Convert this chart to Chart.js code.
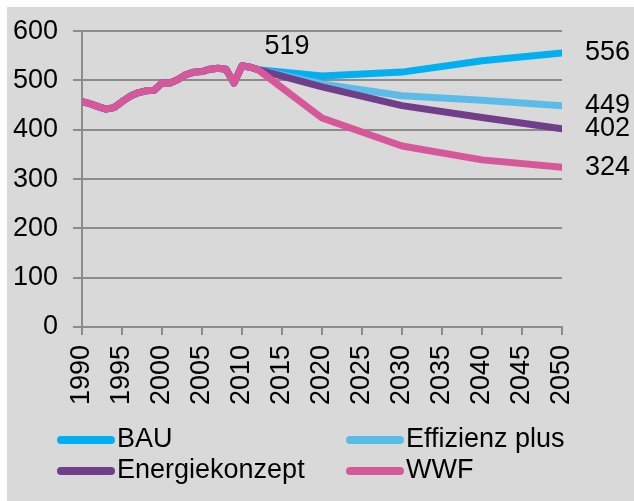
<!DOCTYPE html>
<html>
<head>
<meta charset="utf-8">
<script src="https://cdn.jsdelivr.net/npm/chart.js@4"></script>
<style>
  html, body { margin: 0; padding: 0; background: #fff; }
  #wrap { width: 634px; height: 501px; }
</style>
</head>
<body>
<div id="wrap"><canvas id="grafico" width="634" height="501"></canvas></div>
<script>
// historische Werte (alle Szenarien gleich)
const jahreHist = [1990, 1991, 1992, 1993, 1994, 1995, 1996, 1997, 1998, 1999, 2000, 2001,
  2002, 2003, 2004, 2005, 2006, 2007, 2008, 2009, 2010, 2011, 2012];
const werteHist = [457, 453, 447, 442, 445, 457, 468, 475, 479, 480, 495, 495,
  502, 512, 517, 518, 523, 525, 523, 495, 530, 527, 522];

// Szenarien
const jahreProg = [2020, 2030, 2040, 2050];
const bau = [509, 517, 540, 556];
const effizienzPlus = [493, 469, 460, 449];
const energiekonzept = [487, 449, 425, 402];
const wwf = [424, 367, 339, 324];

const namen = ['BAU', 'Effizienz plus', 'Energiekonzept', 'WWF'];
const farben = ['#00b0f0', '#5bbcea', '#713e8a', '#d6579a'];
const ebenen = [3, 2, 1, 0]; // WWF liegt oben

const xTicks = [1990, 1995, 2000, 2005, 2010, 2015, 2020, 2025, 2030, 2035, 2040, 2045, 2050];
const yTicks = [0, 100, 200, 300, 400, 500, 600];

const hinweisJahr = 2012;
const hinweisText = '519';

const schrift = "'Liberation Sans', Arial, sans-serif";

function reihe(prog) {
  const punkte = jahreHist.map((j, i) => ({ x: j, y: werteHist[i] }));
  jahreProg.forEach((j, i) => punkte.push({ x: j, y: prog[i] }));
  return punkte;
}

const reihen = [bau, effizienzPlus, energiekonzept, wwf];

const hintergrund = {
  id: 'hintergrund',
  beforeDraw(chart) {
    const ctx = chart.ctx;
    ctx.save();
    ctx.fillStyle = '#d9d9d9';
    ctx.fillRect(7, 7, chart.width - 7, chart.height - 7);
    ctx.restore();
  }
};

const beschriftung = {
  id: 'beschriftung',
  afterDatasetsDraw(chart) {
    const ctx = chart.ctx;
    ctx.save();
    ctx.font = '27px ' + schrift;
    ctx.fillStyle = '#000';
    ctx.textBaseline = 'middle';
    ctx.textAlign = 'left';
    // Endwerte
    chart.data.datasets.forEach((ds, i) => {
      const meta = chart.getDatasetMeta(i);
      const p = meta.data[meta.data.length - 1];
      ctx.fillText(String(ds.data[ds.data.length - 1].y), p.x + 23, p.y);
    });
    // 519
    const xs = chart.scales.x.getPixelForValue(hinweisJahr);
    const ys = chart.scales.y.getPixelForValue(werteHist[jahreHist.indexOf(hinweisJahr)]);
    ctx.textAlign = 'center';
    ctx.fillText(hinweisText, xs + 29, ys - 23);

    // Legende
    ctx.font = '27px ' + schrift;
    ctx.lineCap = 'round';
    ctx.lineWidth = 8;
    const spalten = [61, 350];
    const zeilen = [440, 471];
    chart.data.datasets.forEach((ds, i) => {
      const x = spalten[i % 2];
      const y = zeilen[Math.floor(i / 2)];
      ctx.strokeStyle = ds.borderColor;
      ctx.beginPath();
      ctx.moveTo(x, y);
      ctx.lineTo(x + 50, y);
      ctx.stroke();
      ctx.textAlign = 'left';
      ctx.fillText(ds.label, x + 56, y);
    });
    ctx.restore();
  }
};

new Chart(document.getElementById('grafico'), {
  type: 'line',
  data: {
    datasets: namen.map((n, i) => ({
      label: n,
      data: reihe(reihen[i]),
      order: ebenen[i],
      borderColor: farben[i],
      backgroundColor: farben[i],
      borderWidth: 7,
      borderCapStyle: 'round',
      borderJoinStyle: 'round',
      pointRadius: 0,
      tension: 0
    }))
  },
  options: {
    responsive: false,
    animation: false,
    layout: { padding: { top: 31, right: 72, bottom: 86, left: 0 } },
    plugins: {
      legend: { display: false },
      tooltip: { enabled: false }
    },
    scales: {
      x: {
        type: 'linear',
        min: 1990,
        max: 2050,
        afterBuildTicks: s => { s.ticks = xTicks.map(v => ({ value: v })); },
        afterFit: s => { s.height = 88; },
        ticks: {
          color: '#000',
          font: { family: schrift, size: 27 },
          minRotation: 90,
          maxRotation: 90,
          padding: 10,
          callback: v => String(v)
        },
        grid: {
          drawOnChartArea: false,
          drawTicks: true,
          tickLength: 8,
          color: '#8c8c8c',
          lineWidth: 2
        },
        border: { color: '#8c8c8c', width: 2 }
      },
      y: {
        min: 0,
        max: 600,
        afterBuildTicks: s => { s.ticks = yTicks.map(v => ({ value: v })); },
        afterFit: s => { s.width = 82; },
        ticks: {
          color: '#000',
          font: { family: schrift, size: 27 },
          padding: 15
        },
        grid: {
          tickLength: 9,
          color: '#8c8c8c',
          lineWidth: 2
        },
        border: { color: '#8c8c8c', width: 2 }
      }
    }
  },
  plugins: [hintergrund, beschriftung]
});
</script>
</body>
</html>
